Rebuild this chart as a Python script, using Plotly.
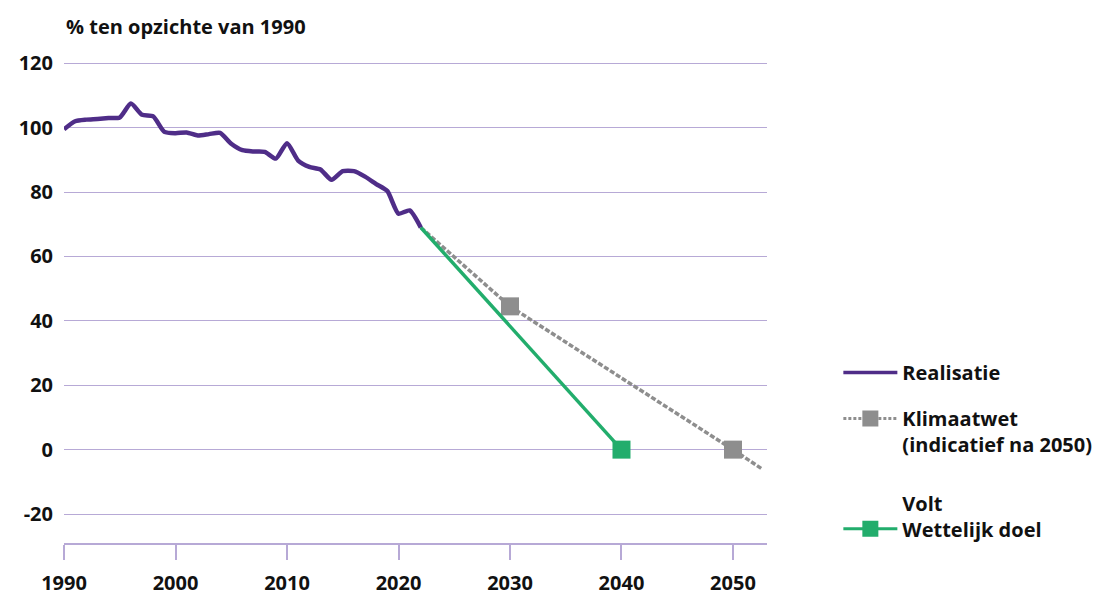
import plotly.graph_objects as go

# ---- data ----
years_real = list(range(1990, 2023))
realisatie = [99.5, 102.0, 102.5, 102.7, 103.0, 103.2, 107.5, 104.0, 103.5, 98.7,
              98.3, 98.5, 97.6, 98.0, 98.4, 95.0, 93.0, 92.6, 92.5, 90.4,
              95.2, 89.8, 87.8, 87.0, 83.8, 86.5, 86.5, 84.8, 82.5, 80.3,
              73.3, 74.3, 69.0]

klimaat_years = [2022, 2030, 2050, 2052.6]
klimaat_vals = [69.0, 44.5, 0.0, -6.0]
klimaat_marker_years = [2030, 2050]
klimaat_marker_vals = [44.5, 0.0]

volt_years = [2022, 2040]
volt_vals = [69.0, 0.0]
volt_marker_years = [2040]
volt_marker_vals = [0.0]

y_ticks = [-20, 0, 20, 40, 60, 80, 100, 120]
y_tick_labels = ["-20", "0", "20", "40", "60", "80", "100", "120"]
x_ticks = [1990, 2000, 2010, 2020, 2030, 2040, 2050]

PURPLE = "#4f2d88"
GREEN = "#22ad6c"
GREY = "#8e8e8e"
GRID = "#b7a9d6"
FONT = "Open Sans"
FS = 20

fig = go.Figure()

# Klimaatwet line + markers
fig.add_trace(go.Scatter(x=klimaat_years, y=klimaat_vals, mode="lines",
                         line=dict(color=GREY, width=3.5, dash="5px,2px"),
                         showlegend=False, hoverinfo="skip"))
fig.add_trace(go.Scatter(x=klimaat_marker_years, y=klimaat_marker_vals, mode="markers",
                         marker=dict(symbol="square", size=18, color=GREY),
                         showlegend=False))
# Volt line + marker
fig.add_trace(go.Scatter(x=volt_years, y=volt_vals, mode="lines",
                         line=dict(color=GREEN, width=3.5),
                         showlegend=False, hoverinfo="skip"))
fig.add_trace(go.Scatter(x=volt_marker_years, y=volt_marker_vals, mode="markers",
                         marker=dict(symbol="square", size=18, color=GREEN),
                         showlegend=False))
# Realisatie
fig.add_trace(go.Scatter(x=years_real, y=realisatie, mode="lines",
                         line=dict(color=PURPLE, width=4.5, shape="spline", smoothing=0.6),
                         showlegend=False))

# legend-only entries
fig.add_trace(go.Scatter(x=[None], y=[None], mode="lines", name="Realisatie",
                         line=dict(color=PURPLE, width=3.5), legend="legend",
                         legendgroup="a"))
fig.add_trace(go.Scatter(x=[None], y=[None], mode="lines+markers",
                         name="Klimaatwet<br>(indicatief na 2050)",
                         line=dict(color=GREY, width=3, dash="3px,2px"),
                         marker=dict(symbol="square", size=16, color=GREY), legend="legend",
                         legendgroup="b"))
fig.add_trace(go.Scatter(x=[None], y=[None], mode="lines+markers",
                         name="Volt<br>Wettelijk doel",
                         line=dict(color=GREEN, width=3),
                         marker=dict(symbol="square", size=16, color=GREEN), legend="legend2",
                         legendgroup="c"))

tick_font = dict(family=FONT, size=FS, color="#111111", weight="bold")

fig.update_layout(
    width=1116, height=596,
    margin=dict(l=56, r=357, t=54, b=61),
    paper_bgcolor="white", plot_bgcolor="white",
    font=dict(family=FONT, size=FS, color="#111111", weight="bold"),
    xaxis=dict(range=[1990, 2053.05], tickvals=x_ticks, showgrid=False,
               showline=True, linecolor=GRID, linewidth=1.5,
               ticks="outside", ticklen=15, tickcolor=GRID, tickwidth=1.5,
               ticklabelstandoff=6, zeroline=False, tickfont=tick_font,
               automargin=False),
    yaxis=dict(range=[-29, 120.4], tickvals=y_ticks, ticktext=y_tick_labels,
               showgrid=True, gridcolor=GRID,
               gridwidth=1.2, zeroline=False, showline=False, ticks="",
               ticklabelstandoff=10, tickfont=tick_font, automargin=False),
    legend=dict(x=1.1015, y=0.395, xanchor="left", yanchor="top", valign="top",
                tracegroupgap=17, itemwidth=54,
                font=tick_font, bgcolor="rgba(0,0,0,0)"),
    legend2=dict(x=1.1015, y=0.124, xanchor="left", yanchor="top", valign="bottom",
                 itemwidth=54,
                 font=tick_font, bgcolor="rgba(0,0,0,0)"),
    annotations=[dict(text="% ten opzichte van 1990", xref="paper", yref="paper",
                      x=0, y=1, yshift=51, xshift=0, xanchor="left", yanchor="top",
                      showarrow=False, font=tick_font)],
)

fig.write_html("out.html")
